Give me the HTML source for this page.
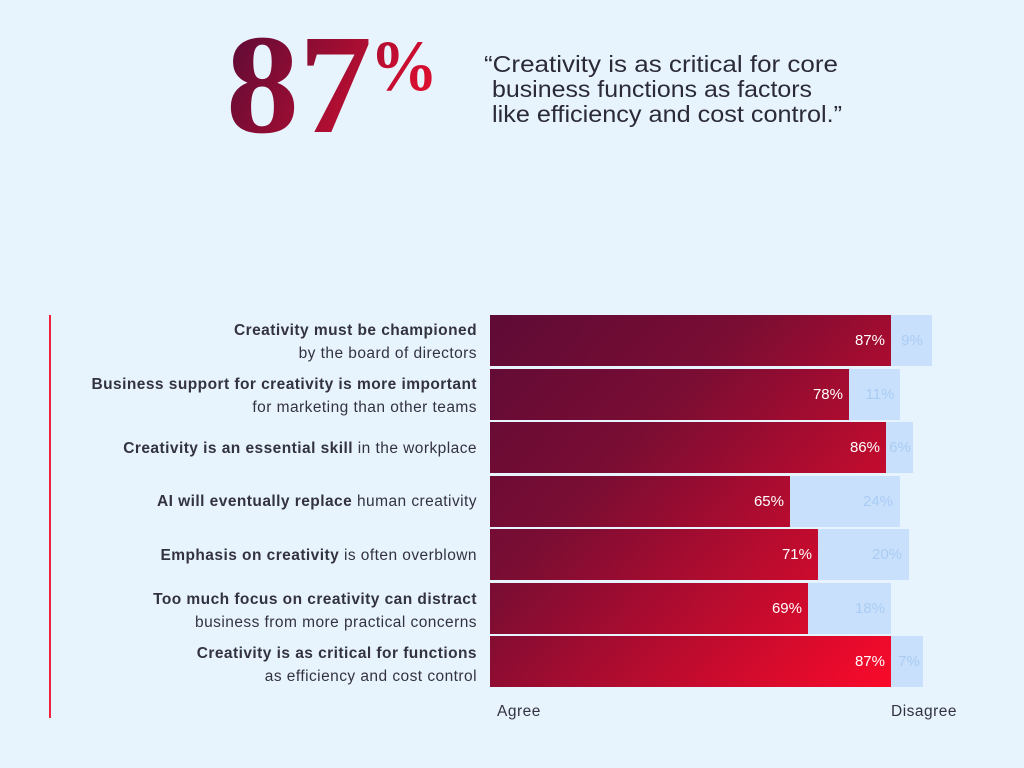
<!DOCTYPE html>
<html><head><meta charset="utf-8"><style>
html,body{margin:0;padding:0;background:#e8f4fd;}
svg{display:block;font-family:"Liberation Sans",sans-serif;}
</style></head><body>
<svg width="1024" height="768" viewBox="0 0 1024 768" xmlns="http://www.w3.org/2000/svg">
<defs>
<linearGradient id="g" gradientUnits="userSpaceOnUse" x1="490" y1="315" x2="891" y2="688">
<stop offset="0" stop-color="#5e0b36"/><stop offset="0.35" stop-color="#7a0d33"/><stop offset="1" stop-color="#fb0a2a"/>
</linearGradient>
<linearGradient id="h" gradientUnits="userSpaceOnUse" x1="228" y1="40" x2="440" y2="150">
<stop offset="0" stop-color="#5e0b36"/><stop offset="1" stop-color="#f5102e"/>
</linearGradient>
</defs>
<rect width="1024" height="768" fill="#e8f4fd"/>
<text x="226" y="132" font-family="Liberation Serif,serif" font-weight="bold" font-size="142" fill="url(#h)" textLength="146" lengthAdjust="spacingAndGlyphs">87</text>
<text x="370" y="90" font-family="Liberation Serif,serif" font-weight="bold" font-size="72" fill="url(#h)" textLength="68" lengthAdjust="spacingAndGlyphs">%</text>
<g font-size="23" fill="#2b2b38">
<text x="484" y="72" textLength="354" lengthAdjust="spacingAndGlyphs">“Creativity is as critical for core</text>
<text x="492" y="97" textLength="320" lengthAdjust="spacingAndGlyphs">business functions as factors</text>
<text x="492" y="122" textLength="350" lengthAdjust="spacingAndGlyphs">like efficiency and cost control.”</text>
</g>
<line x1="50" y1="315" x2="50" y2="718" stroke="#f0213c" stroke-width="2"/>
<g>
<rect x="490" y="315" width="442" height="51" fill="#c8e0fb"/><rect x="490" y="315" width="401" height="51" fill="url(#g)"/>
<rect x="490" y="369" width="410" height="51" fill="#c8e0fb"/><rect x="490" y="369" width="359" height="51" fill="url(#g)"/>
<rect x="490" y="422" width="423" height="51" fill="#c8e0fb"/><rect x="490" y="422" width="396" height="51" fill="url(#g)"/>
<rect x="490" y="476" width="410" height="51" fill="#c8e0fb"/><rect x="490" y="476" width="300" height="51" fill="url(#g)"/>
<rect x="490" y="529" width="419" height="51" fill="#c8e0fb"/><rect x="490" y="529" width="328" height="51" fill="url(#g)"/>
<rect x="490" y="583" width="401" height="51" fill="#c8e0fb"/><rect x="490" y="583" width="318" height="51" fill="url(#g)"/>
<rect x="490" y="636" width="433" height="51" fill="#c8e0fb"/><rect x="490" y="636" width="401" height="51" fill="url(#g)"/>
</g>
<g font-size="15" fill="#fff" text-anchor="end">
<text x="885" y="345">87%</text><text x="843" y="399">78%</text><text x="880" y="452">86%</text>
<text x="784" y="506">65%</text><text x="812" y="559">71%</text><text x="802" y="613">69%</text><text x="885" y="666">87%</text>
</g>
<g font-size="15" fill="#a9ccf5" text-anchor="middle">
<text x="912" y="345">9%</text><text x="880" y="399">11%</text><text x="900" y="452">6%</text>
<text x="878" y="506">24%</text><text x="887" y="559">20%</text><text x="870" y="613">18%</text><text x="909" y="666">7%</text>
</g>
<g font-size="15.5" fill="#333340" text-anchor="end" letter-spacing="0.45">
<text x="477" y="335"><tspan font-weight="bold">Creativity must be championed</tspan></text>
<text x="477" y="358">by the board of directors</text>
<text x="477" y="389"><tspan font-weight="bold">Business support for creativity is more important</tspan></text>
<text x="477" y="412">for marketing than other teams</text>
<text x="477" y="453"><tspan font-weight="bold">Creativity is an essential skill</tspan> in the workplace</text>
<text x="477" y="506"><tspan font-weight="bold">AI will eventually replace</tspan> human creativity</text>
<text x="477" y="560"><tspan font-weight="bold">Emphasis on creativity</tspan> is often overblown</text>
<text x="477" y="604"><tspan font-weight="bold">Too much focus on creativity can distract</tspan></text>
<text x="477" y="627">business from more practical concerns</text>
<text x="477" y="658"><tspan font-weight="bold">Creativity is as critical for functions</tspan></text>
<text x="477" y="681">as efficiency and cost control</text>
</g>
<g font-size="15.5" fill="#333340" letter-spacing="0.5">
<text x="497" y="716">Agree</text>
<text x="891" y="716">Disagree</text>
</g>
</svg>
</body></html>
